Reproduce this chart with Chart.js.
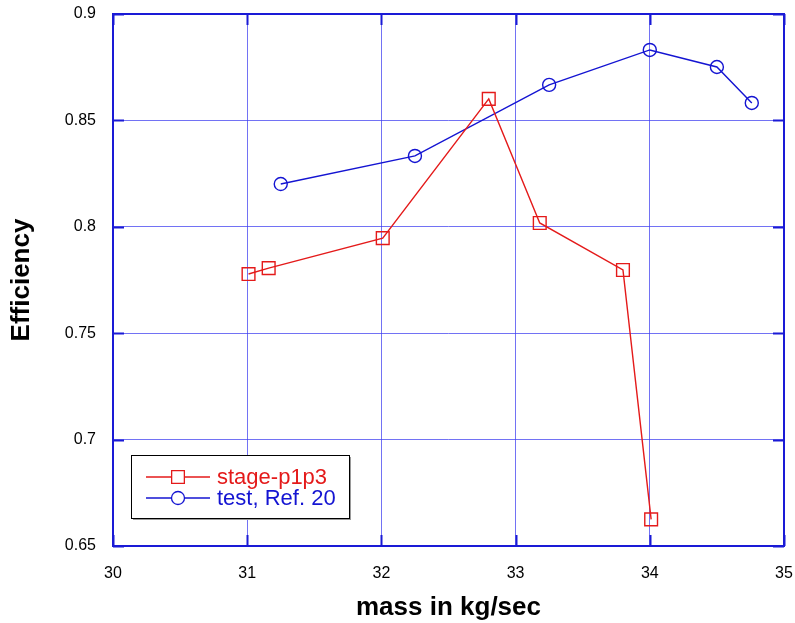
<!DOCTYPE html>
<html><head><meta charset="utf-8">
<script src="https://cdn.jsdelivr.net/npm/chart.js@4"></script>
<style>html,body{margin:0;padding:0;background:#fff}</style>
</head>
<body>
<canvas id="c" width="795" height="623"></canvas>
<script>
const stageName = 'stage-p1p3';
const stageX = [31.01, 31.16, 32.01, 32.80, 33.18, 33.80, 34.01];
const stageY = [0.7778, 0.7806, 0.7947, 0.8601, 0.8018, 0.7797, 0.6625];
const testName = 'test, Ref. 20';
const testX = [31.25, 32.25, 33.25, 34.0, 34.5, 34.76];
const testY = [0.8201, 0.8333, 0.8667, 0.8831, 0.8751, 0.8582];
const xTicks = [30, 31, 32, 33, 34, 35];
const yTicks = [0.65, 0.7, 0.75, 0.8, 0.85, 0.9];
const yTickLabels = ['0.65', '0.7', '0.75', '0.8', '0.85', '0.9'];

const RED = '#e41a1a';
const BLUE = '#1414d2';
const FRAME = '#1a1ad6';
const GRID = 'rgba(60,60,240,0.72)';
const FONT = "'Liberation Sans', Arial, sans-serif";

const framePlugin = {
  id: 'frame',
  beforeDatasetsDraw(chart) {
    const {ctx, chartArea: a, scales} = chart;
    ctx.save();
    ctx.strokeStyle = FRAME;
    ctx.lineWidth = 2;
    const tl = 11;
    ctx.beginPath();
    xTicks.forEach(v => {
      const x = Math.round(scales.x.getPixelForValue(v)) + 0.5;
      ctx.moveTo(x, a.bottom); ctx.lineTo(x, a.bottom - tl);
      ctx.moveTo(x, a.top); ctx.lineTo(x, a.top + tl);
    });
    yTicks.forEach(v => {
      const y = Math.round(scales.y.getPixelForValue(v)) + 0.5;
      ctx.moveTo(a.left, y); ctx.lineTo(a.left + tl, y);
      ctx.moveTo(a.right, y); ctx.lineTo(a.right - tl, y);
    });
    ctx.stroke();
    ctx.strokeRect(a.left, a.top, a.right - a.left, a.bottom - a.top);
    ctx.restore();
  },
  afterDraw(chart) {
    const {ctx, chartArea: a} = chart;
    const bx = a.left + 18, by = a.bottom - 91, bw = 218, bh = 63;
    ctx.save();
    ctx.fillStyle = '#9a9a9a';
    ctx.fillRect(bx + 2, by + 2, bw, bh);
    ctx.fillStyle = '#fff';
    ctx.fillRect(bx, by, bw, bh);
    ctx.strokeStyle = '#000';
    ctx.lineWidth = 1;
    ctx.strokeRect(bx + 0.5, by + 0.5, bw, bh);
    const rows = [
      {ds: chart.data.datasets[0], y: by + 22},
      {ds: chart.data.datasets[1], y: by + 43}
    ];
    rows.forEach(r => {
      const c = r.ds.borderColor;
      ctx.strokeStyle = c;
      ctx.lineWidth = 1.3;
      ctx.beginPath();
      ctx.moveTo(bx + 15, r.y); ctx.lineTo(bx + 79, r.y);
      ctx.stroke();
      ctx.fillStyle = '#fff';
      Chart.helpers.drawPoint(ctx, {
        pointStyle: r.ds.pointStyle, radius: r.ds.pointRadius, borderWidth: 1.3
      }, bx + 47, r.y);
      ctx.fillStyle = c;
      ctx.font = '22px ' + FONT;
      ctx.textBaseline = 'middle';
      ctx.textAlign = 'left';
      ctx.fillText(r.ds.label, bx + 86, r.y + 1);
    });
    ctx.restore();
  }
};

const zeroPad = s => { s.paddingTop = 0; s.paddingBottom = 0; s.paddingLeft = 0; s.paddingRight = 0; };

new Chart(document.getElementById('c'), {
  type: 'line',
  data: {
    datasets: [
      {
        label: stageName,
        data: stageX.map((x, i) => ({x, y: stageY[i]})),
        borderColor: RED, backgroundColor: 'rgba(0,0,0,0)',
        borderWidth: 1.4, pointStyle: 'rect', pointRadius: 9,
        pointBorderWidth: 1.4, pointBorderColor: RED, pointBackgroundColor: 'rgba(0,0,0,0)',
        tension: 0
      },
      {
        label: testName,
        data: testX.map((x, i) => ({x, y: testY[i]})),
        borderColor: BLUE, backgroundColor: 'rgba(0,0,0,0)',
        borderWidth: 1.4, pointStyle: 'circle', pointRadius: 6.5,
        pointBorderWidth: 1.4, pointBorderColor: BLUE, pointBackgroundColor: 'rgba(0,0,0,0)',
        tension: 0
      }
    ]
  },
  options: {
    responsive: false,
    animation: false,
    events: [],
    layout: {padding: {top: 14, right: 11, left: 0, bottom: 0}},
    plugins: {legend: {display: false}, tooltip: {enabled: false}},
    scales: {
      x: {
        type: 'linear', min: 30, max: 35,
        afterBuildTicks: s => { s.ticks = xTicks.map(v => ({value: v})); },
        afterFit: s => { s.height = 77; zeroPad(s); },
        grid: {color: GRID, lineWidth: 1, drawTicks: false},
        border: {display: false},
        ticks: {color: '#000', font: {family: FONT, size: 16}, padding: 18,
                callback: v => String(v)},
        title: {display: true, text: 'mass in kg/sec', color: '#000',
                font: {family: FONT, size: 26, weight: 'bold'}, padding: {top: 6, bottom: 0}}
      },
      y: {
        type: 'linear', min: 0.65, max: 0.9,
        afterBuildTicks: s => { s.ticks = yTicks.map(v => ({value: v})); },
        afterFit: s => { s.width = 113; zeroPad(s); },
        grid: {color: GRID, lineWidth: 1, drawTicks: false},
        border: {display: false},
        ticks: {color: '#000', font: {family: FONT, size: 16}, padding: 17,
                callback: (v, i) => yTickLabels[yTicks.indexOf(v)] ?? String(v)},
        title: {display: true, text: 'Efficiency', color: '#000',
                font: {family: FONT, size: 26, weight: 'bold'}, padding: {top: 6, bottom: 0}}
      }
    }
  },
  plugins: [framePlugin]
});
</script>
</body></html>
